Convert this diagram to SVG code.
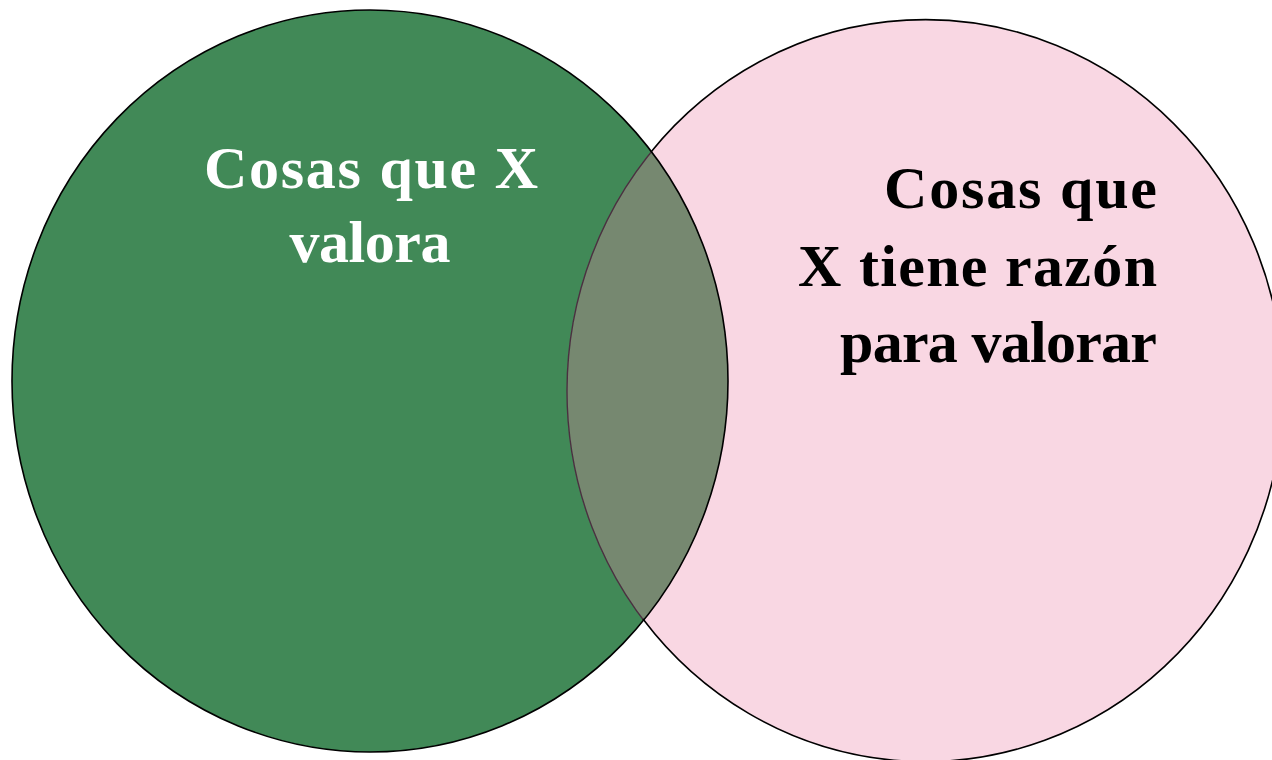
<svg xmlns="http://www.w3.org/2000/svg" width="1272" height="760" viewBox="0 0 1272 760">
<style>
.lbl{font-family:"Liberation Serif","Times New Roman",serif;font-weight:bold;font-size:60px}
.edge{fill:none;stroke:#000;stroke-width:1.6}
</style>
<defs>
<clipPath id="clipL"><ellipse cx="370" cy="381" rx="358" ry="371"/></clipPath>
</defs>
<rect width="1272" height="760" fill="#fff"/>
<g id="set-left">
<ellipse cx="370" cy="381" rx="358" ry="371" fill="#418957"/>
</g>
<g id="set-right">
<ellipse cx="925" cy="391" rx="358" ry="371" fill="#F9D7E3"/>
</g>
<g id="overlap">
<ellipse cx="925" cy="391" rx="358" ry="371" fill="#768870" clip-path="url(#clipL)"/>
<ellipse cx="925" cy="391" rx="358" ry="371" fill="none" stroke="#4a3040" stroke-width="1.4" clip-path="url(#clipL)"/>
</g>
<g id="outlines">
<ellipse class="edge" cx="370" cy="381" rx="358" ry="371"/>
<path class="edge" d="M651,152 A358,371 0 1 1 643,619"/>
</g>
<g id="label-left">
<text class="lbl" fill="#fff" text-anchor="middle" x="371" y="188" textLength="334" lengthAdjust="spacing">Cosas que X</text>
<text class="lbl" fill="#fff" text-anchor="middle" x="370" y="262" textLength="161" lengthAdjust="spacing">valora</text>
</g>
<g id="label-right">
<text class="lbl" fill="#000" text-anchor="end" x="1157" y="208" textLength="273" lengthAdjust="spacing">Cosas que</text>
<text class="lbl" fill="#000" text-anchor="end" x="1157" y="286" textLength="359" lengthAdjust="spacing">X tiene razón</text>
<text class="lbl" fill="#000" text-anchor="end" x="1157" y="362" textLength="317" lengthAdjust="spacing">para valorar</text>
</g>
</svg>
